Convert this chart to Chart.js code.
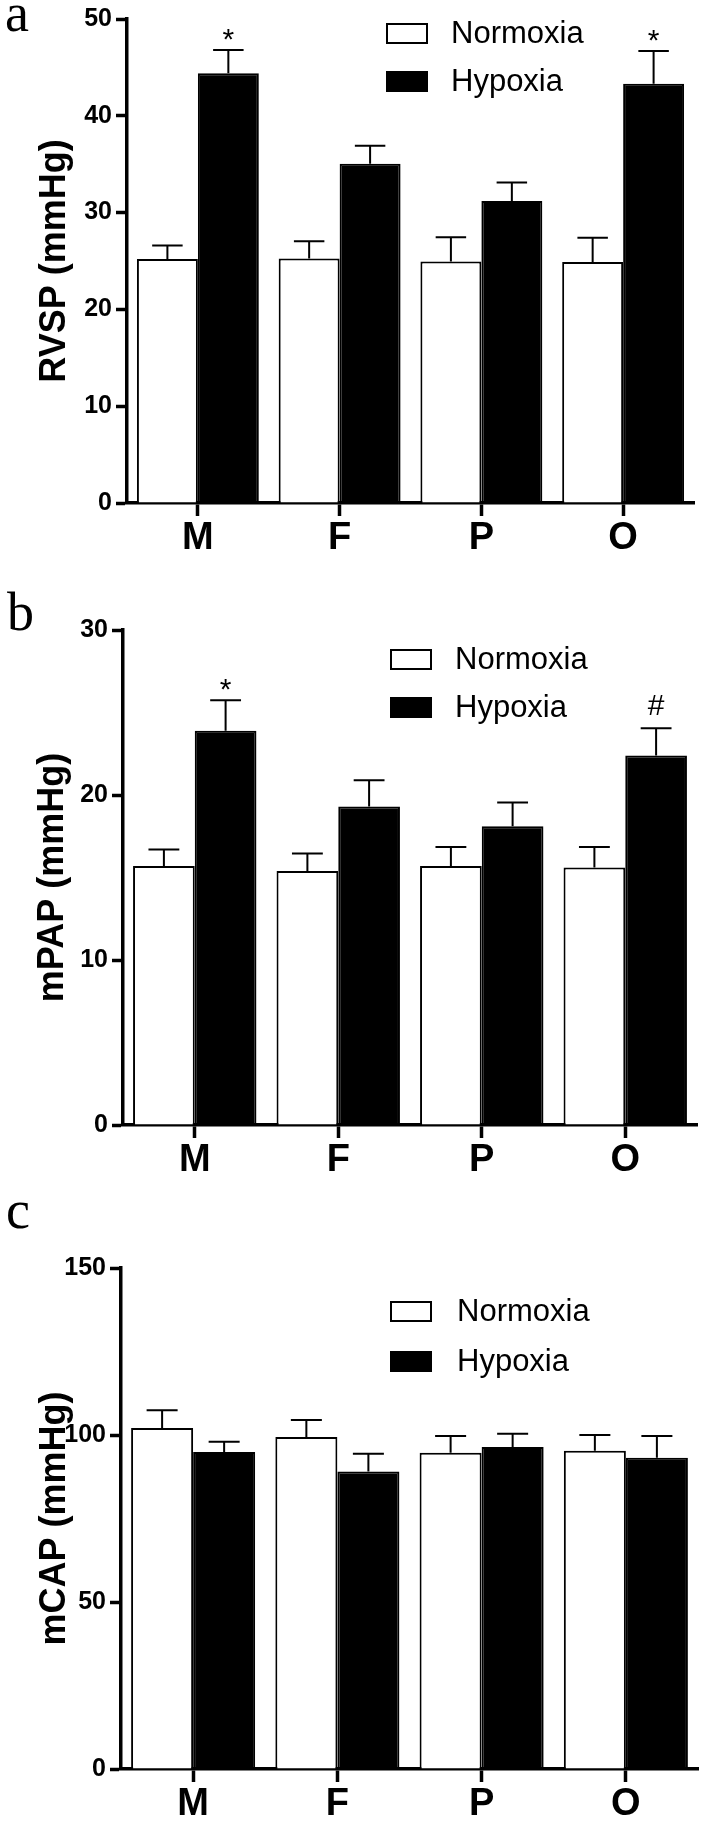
<!DOCTYPE html>
<html>
<head>
<meta charset="utf-8">
<script src="https://cdn.jsdelivr.net/npm/chart.js@4.4.1/dist/chart.umd.min.js"></script>
<style>
html,body{margin:0;padding:0;background:#fff;}
#wrap{position:relative;width:712px;height:1823px;background:#fff;overflow:hidden;}
.panel{position:absolute;left:0;width:712px;}
canvas{display:block;}
</style>
</head>
<body>
<div id="wrap">
  <div class="panel" style="top:0;height:590px"><canvas id="cA" width="712" height="590"></canvas></div>
  <div class="panel" style="top:590px;height:610px"><canvas id="cB" width="712" height="610"></canvas></div>
  <div class="panel" style="top:1200px;height:623px"><canvas id="cC" width="712" height="623"></canvas></div>
</div>
<script>
// ---------- data ----------
const categories = ['M', 'F', 'P', 'O'];
const seriesLabels = ['Normoxia', 'Hypoxia'];

// panel a: RVSP
const rvspNormoxia    = [25.2, 25.25, 24.95, 24.9];
const rvspNormoxiaSem = [1.4, 1.8, 2.5, 2.5];
const rvspHypoxia     = [44.4, 35.05, 31.2, 43.3];
const rvspHypoxiaSem  = [2.4, 1.85, 1.9, 3.4];
const rvspHypoxiaMarks = ['*', '', '', '*'];
const rvspTicks = [0, 10, 20, 30, 40, 50];

// panel b: mPAP
const mpapNormoxia    = [15.7, 15.4, 15.7, 15.6];
const mpapNormoxiaSem = [1.0, 1.05, 1.15, 1.25];
const mpapHypoxia     = [23.9, 19.3, 18.1, 22.4];
const mpapHypoxiaSem  = [1.85, 1.6, 1.45, 1.65];
const mpapHypoxiaMarks = ['*', '', '', '#'];
const mpapTicks = [0, 10, 20, 30];

// panel c: mCAP
const mcapNormoxia    = [102.1, 99.4, 94.7, 95.3];
const mcapNormoxiaSem = [5.3, 5.1, 5.0, 4.7];
const mcapHypoxia     = [94.9, 89.1, 96.4, 93.2];
const mcapHypoxiaSem  = [3.1, 5.3, 4.0, 6.5];
const mcapHypoxiaMarks = ['', '', '', ''];
const mcapTicks = [0, 50, 100, 150];

// ---------- styling ----------
const SANS = "'Liberation Sans', Arial, Helvetica, sans-serif";
const SERIF = "'Liberation Serif', 'Times New Roman', serif";
Chart.defaults.font.family = SANS;
Chart.defaults.color = '#000';

const errorBarPlugin = {
  id: 'errorBars',
  afterDatasetsDraw(chart) {
    const ctx = chart.ctx;
    const y = chart.scales.y;
    chart.data.datasets.forEach((ds, di) => {
      const meta = chart.getDatasetMeta(di);
      meta.data.forEach((bar, i) => {
        const top = y.getPixelForValue(ds.data[i] + ds.sem[i]);
        const half = bar.width / 4;
        ctx.save();
        ctx.strokeStyle = '#000';
        ctx.lineWidth = 2;
        ctx.beginPath();
        ctx.moveTo(bar.x, bar.y);
        ctx.lineTo(bar.x, top);
        ctx.moveTo(bar.x - half, top);
        ctx.lineTo(bar.x + half, top);
        ctx.stroke();
        const mark = ds.marks ? ds.marks[i] : '';
        if (mark) {
          ctx.fillStyle = '#000';
          ctx.font = '30px ' + SANS;
          ctx.textAlign = 'center';
          ctx.textBaseline = 'middle';
          ctx.fillText(mark, bar.x, top - (mark === '*' ? 9 : 21));
        }
        ctx.restore();
      });
    });
  }
};

const panelDecorPlugin = {
  id: 'panelDecor',
  afterDraw(chart, args, opts) {
    const ctx = chart.ctx;
    ctx.save();
    ctx.fillStyle = '#000';
    ctx.font = '54px ' + SERIF;
    ctx.textAlign = 'left';
    ctx.textBaseline = 'alphabetic';
    ctx.fillText(opts.letter, opts.letterX, opts.letterY);
    chart.data.datasets.forEach((ds, i) => {
      const top = opts.legY + i * opts.legGap;
      ctx.fillStyle = ds.backgroundColor;
      ctx.fillRect(opts.legX, top, 42, 21);
      ctx.strokeStyle = '#000';
      ctx.lineWidth = 2;
      ctx.strokeRect(opts.legX + 1, top + 1, 40, 19);
      ctx.fillStyle = '#000';
      ctx.font = '31px ' + SANS;
      ctx.textBaseline = 'middle';
      ctx.fillText(ds.label, opts.legTextX, top + 11);
    });
    ctx.restore();
  }
};

function makeChart(id, c) {
  return new Chart(document.getElementById(id), {
    type: 'bar',
    data: {
      labels: categories,
      datasets: [
        { label: seriesLabels[0], data: c.n, sem: c.nSem, marks: null,
          backgroundColor: '#ffffff', borderColor: '#000', borderWidth: 2,
          categoryPercentage: 0.86, barPercentage: 1.0 },
        { label: seriesLabels[1], data: c.h, sem: c.hSem, marks: c.hMarks,
          backgroundColor: '#000000', borderColor: '#000', borderWidth: 2,
          categoryPercentage: 0.86, barPercentage: 1.0 }
      ]
    },
    options: {
      responsive: false,
      animation: false,
      devicePixelRatio: 1,
      layout: { padding: { top: c.padTop, right: c.padRight, left: 0, bottom: 0 } },
      plugins: {
        legend: { display: false },
        tooltip: { enabled: false },
        panelDecor: c.decor
      },
      scales: {
        x: {
          offset: true,
          grid: { offset: false, drawOnChartArea: false, drawTicks: true, tickLength: 13, tickWidth: 3.5, color: '#000' },
          border: { display: true, color: '#000', width: 3.5 },
          ticks: { color: '#000', font: { size: 38, weight: 'bold' }, padding: 0, maxRotation: 0 },
          afterFit: s => { s.height = c.xH; }
        },
        y: {
          min: 0,
          max: c.ticks[c.ticks.length - 1],
          afterBuildTicks: s => { s.ticks = c.ticks.map(v => ({ value: v })); },
          grid: { drawOnChartArea: false, drawTicks: true, tickLength: 11, tickWidth: 3.5, color: '#000' },
          border: { display: true, color: '#000', width: 3.5 },
          ticks: { color: '#000', font: { size: 25, weight: 'bold' }, padding: 4 },
          title: { display: true, text: c.title, color: '#000',
                   font: { size: 36, weight: 'bold' }, padding: { top: c.titlePad, bottom: 0 } },
          afterFit: s => { s.width = c.yW; }
        }
      }
    },
    plugins: [errorBarPlugin, panelDecorPlugin]
  });
}

makeChart('cA', {
  n: rvspNormoxia, nSem: rvspNormoxiaSem, h: rvspHypoxia, hSem: rvspHypoxiaSem, hMarks: rvspHypoxiaMarks,
  ticks: rvspTicks, title: 'RVSP (mmHg)',
  padTop: 17, padRight: 18, xH: 87, yW: 127, titlePad: 33,
  decor: { letter: 'a', letterX: 5, letterY: 31, legX: 386, legY: 23, legGap: 48, legTextX: 451 }
});
makeChart('cB', {
  n: mpapNormoxia, nSem: mpapNormoxiaSem, h: mpapHypoxia, hSem: mpapHypoxiaSem, hMarks: mpapHypoxiaMarks,
  ticks: mpapTicks, title: 'mPAP (mmHg)',
  padTop: 40, padRight: 15, xH: 75, yW: 123, titlePad: 31,
  decor: { letter: 'b', letterX: 7, letterY: 40, legX: 390, legY: 59, legGap: 48, legTextX: 455 }
});
makeChart('cC', {
  n: mcapNormoxia, nSem: mcapNormoxiaSem, h: mcapHypoxia, hSem: mcapHypoxiaSem, hMarks: mcapHypoxiaMarks,
  ticks: mcapTicks, title: 'mCAP (mmHg)',
  padTop: 68, padRight: 14, xH: 54, yW: 121, titlePad: 33,
  decor: { letter: 'c', letterX: 6, letterY: 28, legX: 390, legY: 101, legGap: 50, legTextX: 457 }
});
</script>
</body>
</html>
